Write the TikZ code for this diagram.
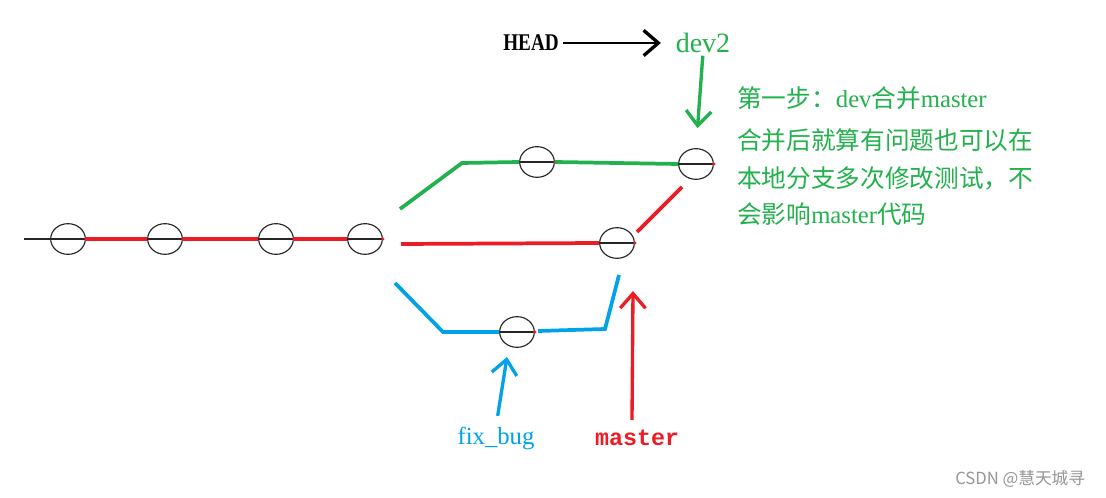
\documentclass[tikz,border=0pt]{standalone}
\usepackage{fontspec}
\usetikzlibrary{shapes.geometric,arrows.meta}
\newfontfamily\cjk{Noto Sans CJK SC}
\newfontfamily\lser{Liberation Serif}
\newfontfamily\headfont[FakeStretch=0.8]{Liberation Serif}
\newfontfamily\monof{Liberation Mono}
\definecolor{pgreen}{RGB}{34,177,76}
\definecolor{pred}{RGB}{237,28,36}
\definecolor{pblue}{RGB}{0,162,232}
\definecolor{wmgray}{RGB}{150,150,150}
\tikzset{
  commit/.style={ellipse, draw=black!85, line width=0.85pt, minimum width=26pt, minimum height=23pt, inner sep=0pt},
  branch/.style={line width=2.8pt},
  ptr/.style={line width=2.5pt, -{Straight Barb[length=11pt,width=19pt,line width=2.5pt]}},
  txt/.style={inner sep=0pt, anchor=west},
}
\begin{document}
\begin{tikzpicture}[x=0.75pt,y=-0.75pt]
\useasboundingbox[fill=white] (0,0) rectangle (1106,498);

% commits
\node[commit] (m1) at (68,239) {};
\node[commit] (m2) at (165,239) {};
\node[commit] (m3) at (276,239) {};
\node[commit] (m4) at (365,239) {};
\node[commit] (g1) at (537,162) {};
\node[commit] (g2) at (696,164) {};
\node[commit] (r1) at (617,243) {};
\node[commit] (b1) at (517,332) {};

\foreach \c in {m1,m2,m3,m4,g1,g2,r1,b1}{
  \draw[black!85, line width=0.85pt] (\c.west) -- (\c.east);
  \fill[pred] (\c.east) circle (1.8);
}

% main line
\coordinate (start) at (24,239);
\draw[black!85, line width=0.85pt] (start) -- (m1.west);
\draw[pred, branch] (m1.east) -- (m2.west);
\draw[pred, branch] (m2.east) -- (m3.west);
\draw[pred, branch] (m3.east) -- (m4.west);

% green branch
\coordinate (gs) at (400,209);
\coordinate (gk) at (462,163);
\draw[pgreen, branch] (gs) -- (gk) -- (g1.west);
\draw[pgreen, branch] (g1.east) -- (g2.west);

% red branch
\coordinate (rs) at (401,244);
\draw[pred, branch] (rs) -- (r1.west);
\coordinate (rd1) at (637,232);
\coordinate (rd2) at (682,187);
\draw[pred, branch] (rd1) -- (rd2);

% blue branch
\coordinate (bs) at (395,283);
\coordinate (bk) at (443,332);
\draw[pblue, branch] (bs) -- (bk) -- (b1.west);
\coordinate (bc) at (538,331);
\coordinate (bk2) at (605,329);
\coordinate (be) at (619,275);
\draw[pblue, branch] (bc) -- (bk2) -- (be);

% labels
\node[inner sep=0pt] (head) at (531,43) {\headfont\bfseries\fontsize{18}{20}\selectfont HEAD};
\node[inner sep=0pt, text=pgreen] (dev2) at (703,43) {\lser\fontsize{21}{23}\selectfont dev2};
\draw[ptr, black, line width=2.2pt, shorten <=3pt, shorten >=11pt] (head.east) -- (dev2.west);
\draw[ptr, pgreen, shorten <=2pt, shorten >=15pt] (dev2.south) -- (g2.north);

\node[inner sep=0pt, text=pblue] (fix) at (496,438) {\lser\fontsize{18.5}{20}\selectfont fix\_bug};
\coordinate (bt) at (507,357);
\draw[ptr, pblue, shorten <=8pt] (fix.north) -- (bt);

\node[inner sep=0pt, text=pred] (master) at (637,438) {\monof\bfseries\fontsize{17.5}{19}\selectfont master};
\coordinate (mb) at (632,420);
\coordinate (mt) at (633,291);
\draw[ptr, pred] (mb) -- (mt);

% explanation
\node[txt, text=pgreen] (t1) at (737,98) {\fontsize{18.5}{21}\selectfont\cjk 第一步：\lser dev\cjk 合并\lser master};
\node[txt, text=pgreen] (t2) at (737,140) {\fontsize{18.5}{21}\selectfont\cjk 合并后就算有问题也可以在};
\node[txt, text=pgreen] (t3) at (737,178) {\fontsize{18.5}{21}\selectfont\cjk 本地分支多次修改测试，不};
\node[txt, text=pgreen] (t4) at (737,214) {\fontsize{18.5}{21}\selectfont\cjk 会影响\lser master\cjk 代码};

% watermark
\node[txt, text=wmgray] (wm) at (955,479) {\cjk\fontsize{12.5}{14}\selectfont CSDN @慧天城寻};
\end{tikzpicture}
\end{document}
